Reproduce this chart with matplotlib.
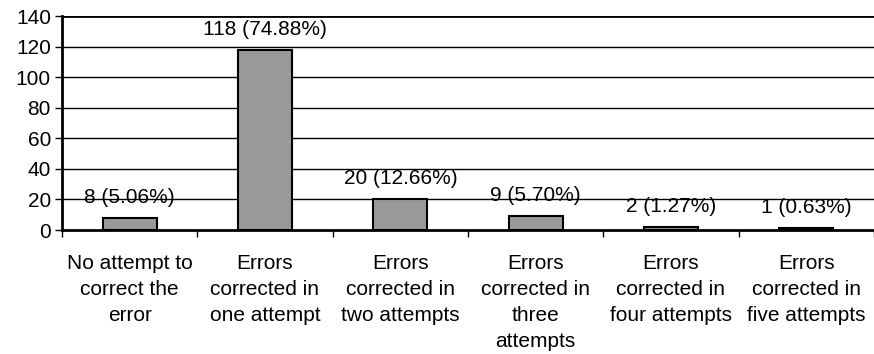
import matplotlib.pyplot as plt
import numpy as np

plt.rcParams['font.family'] = ['Liberation Sans', 'DejaVu Sans']

categories = ["No attempt to\ncorrect the\nerror",
              "Errors\ncorrected in\none attempt",
              "Errors\ncorrected in\ntwo attempts",
              "Errors\ncorrected in\nthree\nattempts",
              "Errors\ncorrected in\nfour attempts",
              "Errors\ncorrected in\nfive attempts"]
counts = [8, 118, 20, 9, 2, 1]
labels = ["8 (5.06%)", "118 (74.88%)", "20 (12.66%)", "9 (5.70%)", "2 (1.27%)", "1 (0.63%)"]

fig = plt.figure(figsize=(8.74, 3.54), dpi=100)
ax = fig.add_axes([62/874, 1 - 230/354, 1 - 62/874, 214/354])

x = np.arange(len(counts))
ax.bar(x, counts, width=0.4, color='#999999', edgecolor='black', linewidth=1.5, zorder=3)

# data labels
for xi, c, lab in zip(x, counts, labels):
    ax.annotate(lab, (xi, c), xytext=(0, 8), textcoords='offset points',
                ha='center', va='bottom', fontsize=15, zorder=4)

ax.set_xlim(-0.5, len(counts) - 0.5)
ax.set_ylim(0, 140)
ax.set_yticks(np.arange(0, 141, 20))
for y in range(20, 140, 20):
    ax.axhline(y, color='black', linewidth=1, zorder=1)
ax.axhline(140, color='black', linewidth=2, zorder=1)

# category labels centered, ticks between categories
ax.set_xticks(x)
ax.set_xticklabels(categories, fontsize=15, linespacing=1.45)
ax.tick_params(axis='x', length=0, pad=17.5)
ax.set_xticks(np.arange(-0.5, len(counts)), minor=True)
ax.tick_params(axis='x', which='minor', length=5, width=1, direction='out')
ax.tick_params(axis='y', labelsize=15, length=5, width=1, pad=3)

for s in ['top', 'right']:
    ax.spines[s].set_visible(False)
ax.spines['left'].set_linewidth(2)
ax.spines['bottom'].set_linewidth(2)

fig.savefig('out.png', dpi=100)
